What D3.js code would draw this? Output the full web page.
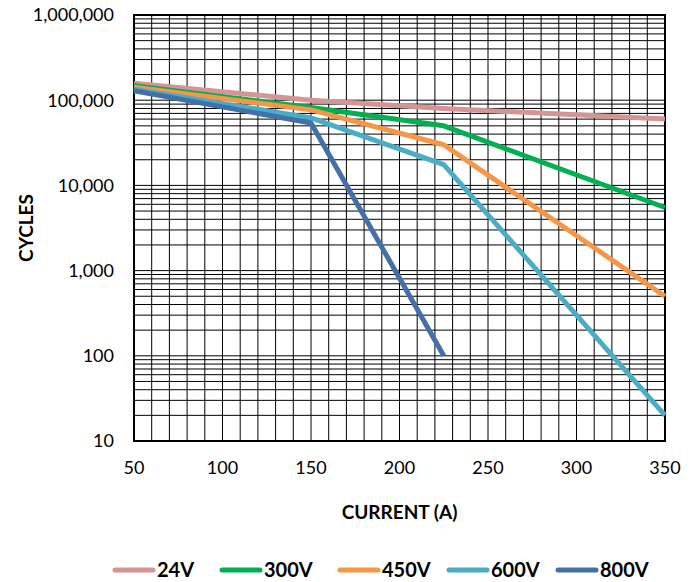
<!DOCTYPE html>
<html>
<head>
<meta charset="utf-8">
<script src="https://cdn.jsdelivr.net/npm/d3@7"></script>
<style>
  body { margin: 0; background: #fff; }
  text { font-family: Lato, "Open Sans", sans-serif; fill: #000; }
</style>
</head>
<body>
<div class="chartdiv"></div>
<script>
// data
var currents = [50, 150, 225, 350];
var currents800 = [50, 150, 225];
var cycles24 = [158000, 100000, 80000, 60000];
var cycles300 = [148000, 82000, 50000, 5500];
var cycles450 = [142000, 77000, 30000, 500];
var cycles600 = [135000, 62000, 17500, 20];
var cycles800 = [129000, 54000, 100];
var seriesNames = ["24V", "300V", "450V", "600V", "800V"];
var seriesColors = ["#D59595", "#00B050", "#F79646", "#4BACC6", "#4470A8"];
var xTicks = [50, 100, 150, 200, 250, 300, 350];
var yTicks = [10, 100, 1000, 10000, 100000, 1000000];

var series = [
  {name: seriesNames[0], xs: currents, ys: cycles24},
  {name: seriesNames[1], xs: currents, ys: cycles300},
  {name: seriesNames[2], xs: currents, ys: cycles450},
  {name: seriesNames[3], xs: currents, ys: cycles600},
  {name: seriesNames[4], xs: currents800, ys: cycles800}
];

var W = 694, H = 582;
var margin = {top: 15, right: 29, bottom: 141, left: 134};
var width = W - margin.left - margin.right;
var height = H - margin.top - margin.bottom;

var x = d3.scaleLinear().domain([50, 350]).range([0, width]);
var y = d3.scaleLog().domain([10, 1000000]).range([height, 0]);

var svg = d3.select(".chartdiv")
    .append("svg")
    .attr("width", W)
    .attr("height", H);

var g = svg.append("g")
    .attr("transform", "translate(" + margin.left + "," + margin.top + ")");

// vertical grid every 10 A
g.append("g")
    .selectAll("line")
    .data(d3.range(60, 350, 10))
  .enter().append("line")
    .attr("x1", function(d) { return x(d); })
    .attr("x2", function(d) { return x(d); })
    .attr("y1", 0)
    .attr("y2", height)
    .attr("stroke", "#000")
    .attr("stroke-width", 1);

// horizontal log grid
var hLines = [];
[10, 100, 1000, 10000, 100000].forEach(function(dec) {
  for (var m = 1; m <= 9; m++) hLines.push(dec * m);
});
g.append("g")
    .selectAll("line")
    .data(hLines.filter(function(v) { return v > 10; }))
  .enter().append("line")
    .attr("x1", 0)
    .attr("x2", width)
    .attr("y1", function(d) { return y(d); })
    .attr("y2", function(d) { return y(d); })
    .attr("stroke", "#000")
    .attr("stroke-width", 1);

// plot border
g.append("rect")
    .attr("width", width)
    .attr("height", height)
    .attr("fill", "none")
    .attr("stroke", "#000")
    .attr("stroke-width", 2);

// y axis labels
g.append("g")
    .selectAll("text")
    .data(yTicks)
  .enter().append("text")
    .attr("x", -20)
    .attr("y", function(d) { return y(d); })
    .attr("dy", "0.35em")
    .style("text-anchor", "end")
    .style("font-size", "18px")
    .text(d3.format(","));

// x axis labels
g.append("g")
    .selectAll("text")
    .data(xTicks)
  .enter().append("text")
    .attr("x", function(d) { return x(d); })
    .attr("y", height + 27)
    .attr("dy", "0.35em")
    .style("text-anchor", "middle")
    .style("font-size", "18px")
    .text(function(d) { return d; });

// axis titles
g.append("text")
    .attr("x", width / 2)
    .attr("y", height + 71)
    .attr("dy", "0.35em")
    .style("text-anchor", "middle")
    .style("font-size", "19px")
    .style("font-weight", "bold")
    .text("CURRENT (A)");

svg.append("text")
    .attr("transform", "translate(26," + (margin.top + height / 2) + ") rotate(-90)")
    .attr("dy", "0.35em")
    .style("text-anchor", "middle")
    .style("font-size", "19px")
    .style("font-weight", "bold")
    .text("CYCLES");

// series lines
var line = d3.line()
    .x(function(d) { return x(d[0]); })
    .y(function(d) { return y(d[1]); });

g.append("g")
    .selectAll("path")
    .data(series)
  .enter().append("path")
    .attr("d", function(s) { return line(d3.zip(s.xs, s.ys)); })
    .attr("fill", "none")
    .attr("stroke", function(s, i) { return seriesColors[i]; })
    .attr("stroke-width", 5)
    .attr("stroke-linejoin", "round");

// legend
var legendX = [113, 220, 338, 447, 556];
var legend = svg.append("g")
    .selectAll("g")
    .data(series)
  .enter().append("g")
    .attr("transform", function(d, i) { return "translate(" + legendX[i] + ",570)"; });

legend.append("line")
    .attr("x1", 2)
    .attr("x2", 40)
    .attr("stroke", function(d, i) { return seriesColors[i]; })
    .attr("stroke-width", 5)
    .attr("stroke-linecap", "round");

legend.append("text")
    .attr("x", 44)
    .attr("dy", "0.35em")
    .style("font-size", "20px")
    .style("font-weight", "bold")
    .text(function(d) { return d.name; });
</script>
</body>
</html>
